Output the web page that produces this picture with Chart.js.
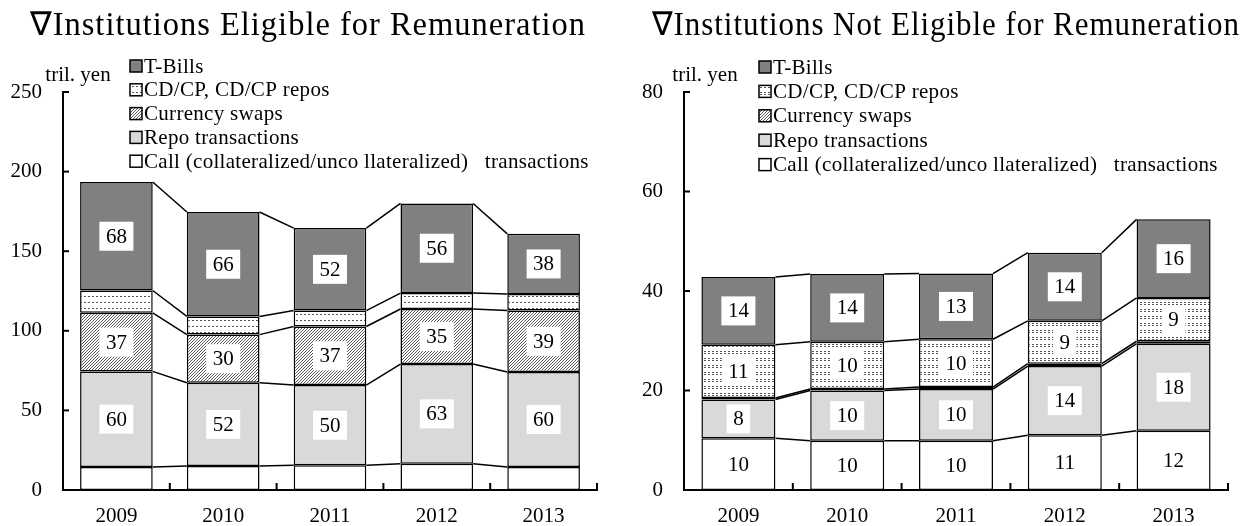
<!DOCTYPE html>
<html><head><meta charset="utf-8">
<script src="https://cdn.jsdelivr.net/npm/chart.js@4.4.1/dist/chart.umd.min.js"></script>
<style>
html,body{margin:0;padding:0;background:#fff;}
#wrap{position:relative;width:1242px;height:526px;overflow:hidden;}
.c{position:absolute;top:0;height:526px;}
</style></head><body>
<div id="wrap">
<div class="c" style="left:0;width:620px"><canvas id="c1" width="620" height="526"></canvas></div>
<div class="c" style="left:620px;width:622px"><canvas id="c2" width="622" height="526"></canvas></div>
</div>
<script>
// ---- data ----
const years = ['2009', '2010', '2011', '2012', '2013'];
const seriesNames = ['Call (collateralized/unco llateralized)   transactions', 'Repo transactions', 'Currency swaps', 'CD/CP, CD/CP repos', 'T-Bills'];

const eligibleCall   = [14.5, 15, 15.5, 16.5, 14.5];
const eligibleRepo   = [60, 52.4, 50.4, 62.6, 59.6];
const eligibleSwaps  = [36.8, 30.2, 36.8, 34.6, 38.6];
const eligibleCDCP   = [14, 11.4, 10, 10, 10.4];
const eligibleTBills = [68.2, 65.6, 51.8, 56.3, 37.8];
const eligibleTicks  = [0, 50, 100, 150, 200, 250];

const notEligibleCall   = [10.4, 9.9, 9.9, 11, 11.9];
const notEligibleRepo   = [7.8, 10.1, 10.4, 13.9, 17.5];
const notEligibleSwaps  = [0.3, 0.3, 0.4, 0.5, 0.5];
const notEligibleCDCP   = [10.7, 9.5, 9.6, 8.6, 8.7];
const notEligibleTBills = [13.6, 13.6, 13.2, 13.7, 15.8];
const notEligibleTicks  = [0, 20, 40, 60, 80];

const FONT = '"Liberation Serif", "Times New Roman", serif';
Chart.defaults.font.family = FONT;
Chart.defaults.color = '#000';

// ---- patterns ----
function pattern(w, h, draw) {
  const c = document.createElement('canvas');
  c.width = w; c.height = h;
  const g = c.getContext('2d');
  g.fillStyle = '#fff'; g.fillRect(0, 0, w, h);
  draw(g);
  return g.createPattern(c, 'repeat');
}
const hatch = pattern(3, 3, g => { g.fillStyle = '#5a5a5a'; for (let i = 0; i < 3; i++) g.fillRect(i, 2 - i, 1, 1); });
const dashL = pattern(4, 6, g => { g.fillStyle = '#555'; g.fillRect(0, 2, 2, 1); });
const dashR = pattern(4, 7, g => { g.fillStyle = '#555'; g.fillRect(0, 1, 2, 1); g.fillRect(0, 3, 2, 1); });

function datasets(vals, cdPattern) {
  const fills = ['#ffffff', '#d9d9d9', hatch, cdPattern, '#808080'];
  return vals.map((v, i) => ({
    label: seriesNames[i], data: v, backgroundColor: fills[i],
    borderColor: '#000', borderWidth: 1.5, borderSkipped: false,
    barPercentage: 0.68, categoryPercentage: 1
  }));
}

function customPlugin(cfg) {
  return {
    id: 'custom_' + cfg.id,
    afterDatasetsDraw(chart) {
      const ctx = chart.ctx;
      const metas = chart.data.datasets.map((d, i) => chart.getDatasetMeta(i));
      ctx.save();
      ctx.strokeStyle = '#000'; ctx.lineWidth = 1.5;
      metas.forEach(meta => {
        for (let i = 0; i < meta.data.length - 1; i++) {
          const a = meta.data[i], b = meta.data[i + 1];
          ctx.beginPath();
          ctx.moveTo(a.x + a.width / 2, a.y);
          ctx.lineTo(b.x - b.width / 2, b.y);
          ctx.stroke();
        }
      });
      ctx.font = '21px ' + FONT;
      ctx.textAlign = 'center'; ctx.textBaseline = 'middle';
      cfg.labeled.forEach(di => {
        const meta = metas[di];
        meta.data.forEach((bar, i) => {
          const t = String(Math.round(chart.data.datasets[di].data[i]));
          const cy = (bar.y + bar.base) / 2;
          const w = ctx.measureText(t).width + 13, h = 29;
          ctx.fillStyle = '#fff';
          ctx.fillRect(bar.x - w / 2, cy - h / 2, w, h);
          ctx.fillStyle = '#000';
          ctx.fillText(t, bar.x, cy + 1);
        });
      });
      ctx.restore();
    },
    afterDraw(chart) {
      const ctx = chart.ctx;
      const xs = chart.scales.x, ys = chart.scales.y;
      ctx.save();
      ctx.strokeStyle = '#000'; ctx.lineWidth = 2;
      ys.ticks.forEach(t => {
        const py = ys.getPixelForValue(t.value);
        ctx.beginPath(); ctx.moveTo(xs.left - 1, py); ctx.lineTo(xs.left + 6, py); ctx.stroke();
      });
      const n = years.length;
      for (let i = 1; i <= n; i++) {
        const px = xs.left + (xs.right - xs.left) * i / n;
        ctx.beginPath(); ctx.moveTo(px, ys.bottom); ctx.lineTo(px, ys.bottom - 7); ctx.stroke();
      }
      // title
      ctx.fillStyle = '#000';
      ctx.font = '33px ' + FONT;
      ctx.textAlign = 'left'; ctx.textBaseline = 'alphabetic';
      ctx.letterSpacing = '1px';
      const tw = ctx.measureText(cfg.title).width;
      ctx.save();
      ctx.translate(cfg.titleX0, 35);
      ctx.scale((cfg.titleX1 - cfg.titleX0) / tw, 1);
      ctx.fillText(cfg.title, 0, 0);
      ctx.restore();
      ctx.letterSpacing = '0px';
      // unit
      ctx.font = '21px ' + FONT;
      ctx.textAlign = 'center'; ctx.textBaseline = 'middle';
      ctx.fillText('tril. yen', cfg.unitX, 75);
      // legend
      ctx.textAlign = 'left';
      ctx.letterSpacing = '0.3px';
      for (let k = 0; k < 5; k++) {
        const di = 4 - k;
        const ds = chart.data.datasets[di];
        const yc = cfg.legendY0 + k * cfg.legendStep;
        ctx.fillStyle = ds.backgroundColor;
        ctx.fillRect(cfg.boxX, yc - 6, 12, 12);
        ctx.lineWidth = 1.5;
        ctx.strokeRect(cfg.boxX, yc - 6, 12, 12);
        ctx.fillStyle = '#000';
        ctx.fillText(ds.label, cfg.textX, yc + 1);
      }
      ctx.letterSpacing = '0px';
      ctx.restore();
    }
  };
}

function makeChart(id, cfg) {
  return new Chart(document.getElementById(id), {
    type: 'bar',
    data: { labels: years, datasets: datasets(cfg.values, cfg.cdPattern) },
    options: {
      responsive: false, animation: false,
      layout: { padding: { top: 92, right: cfg.padRight, bottom: 0, left: 0 } },
      plugins: { legend: { display: false }, title: { display: false }, tooltip: { enabled: false } },
      scales: {
        x: {
          stacked: true,
          grid: { display: false, drawTicks: false },
          border: { display: true, color: '#000', width: 2 },
          ticks: { font: { size: 21, family: FONT }, color: '#000', padding: 14 },
          afterFit: s => { s.height = 36; }
        },
        y: {
          stacked: true, min: 0, max: cfg.ticks[cfg.ticks.length - 1],
          afterBuildTicks: s => { s.ticks = cfg.ticks.map(v => ({ value: v })); },
          grid: { display: false, drawTicks: false },
          border: { display: true, color: '#000', width: 2 },
          ticks: { font: { size: 21, family: FONT }, color: '#000', padding: 21 },
          afterFit: s => { s.width = cfg.axisX; }
        }
      }
    },
    plugins: [customPlugin(cfg)]
  });
}

makeChart('c1', {
  id: 'l', values: [eligibleCall, eligibleRepo, eligibleSwaps, eligibleCDCP, eligibleTBills],
  cdPattern: dashL, ticks: eligibleTicks, labeled: [1, 2, 4],
  axisX: 63, padRight: 23,
  title: '\u2207Institutions Eligible for Remuneration', titleX0: 30, titleX1: 586,
  unitX: 78, boxX: 130, textX: 144, legendY0: 66, legendStep: 23.8
});
makeChart('c2', {
  id: 'r', values: [notEligibleCall, notEligibleRepo, notEligibleSwaps, notEligibleCDCP, notEligibleTBills],
  cdPattern: dashR, ticks: notEligibleTicks, labeled: [0, 1, 3, 4],
  axisX: 64, padRight: 14,
  title: '\u2207Institutions Not Eligible for Remuneration', titleX0: 32, titleX1: 620,
  unitX: 85, boxX: 139, textX: 153, legendY0: 67, legendStep: 24.4
});
</script>
</body></html>
